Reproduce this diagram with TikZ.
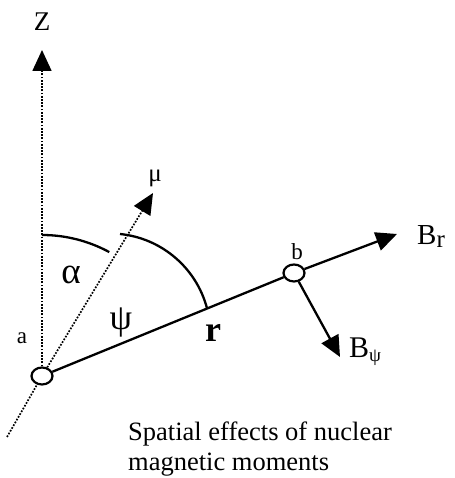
\documentclass[tikz,border=0pt]{standalone}
\usepackage{fontspec}
\setmainfont{Liberation Serif}
\usetikzlibrary{arrows.meta,shapes.geometric}
\begin{document}
\begin{tikzpicture}[x=1pt,y=1pt,
  tri/.style={-{Triangle[length=21pt,width=19pt]}},
  dotline/.style={line width=1.7pt, dash pattern=on 1.7pt off 1.5pt},
  solidline/.style={line width=2.3pt},
  joint/.style={ellipse, draw, line width=2.2pt, fill=white, minimum width=21pt, minimum height=17pt, inner sep=0pt},
  lbl/.style={inner sep=0pt},
  captext/.style={inner sep=0pt, anchor=base west, font=\fontsize{26.5}{29}\selectfont}]
\useasboundingbox (0,0) rectangle (454,478);
% points
\coordinate (ztip) at (42,428);
\coordinate (mutip) at (153,285);
\coordinate (mulow) at (7,41);
\coordinate (brtip) at (397,244);
\coordinate (bpsitip) at (340,121);
\node[joint] (a) at (42,102) {};
\node[joint] (b) at (294,205) {};
% axes
\draw[dotline] (mulow) -- (a);
\draw[dotline,tri] (a) -- (ztip);
\draw[dotline,tri] (a) -- (mutip);
\draw[solidline] (a) -- (b);
\draw[solidline,tri] (b) -- (brtip);
\draw[solidline,tri] (b) -- (bpsitip);
% arcs
\draw[solidline] (42,243) arc[start angle=90, end angle=61.5, radius=141];
\draw[solidline] (120,244) arc[start angle=84.2, end angle=15, radius=100.5];
% labels
\node[lbl, font=\fontsize{27}{28}\selectfont] (zl) at (42,456) {Z};
\node[lbl, font=\fontsize{25}{26}\selectfont] (mul) at (155,300) {μ};
\node[lbl, font=\fontsize{37}{38}\selectfont] (al) at (71,203) {α};
\node[lbl, font=\fontsize{36}{38}\selectfont] (psl) at (121,155) {ψ};
\node[lbl, font=\fontsize{36}{38}\selectfont\bfseries] (rl) at (213,145) {r};
\node[lbl, font=\fontsize{23}{24}\selectfont] (alab) at (22,140) {a};
\node[lbl, font=\fontsize{23}{24}\selectfont] (blab) at (297,226) {b};
\node[lbl, anchor=base west, font=\fontsize{29}{30}\selectfont] (brl) at (417,233) {B\raisebox{-3pt}{\fontsize{25}{26}\selectfont r}};
\node[lbl, anchor=base west, font=\fontsize{30}{30}\selectfont] (bpl) at (349,120) {B\raisebox{-4pt}{\fontsize{19}{20}\selectfont ψ}};
% caption
\node[captext] (c1) at (128,37) {Spatial effects of nuclear};
\node[captext] (c2) at (128,8) {magnetic moments};
\end{tikzpicture}
\end{document}
